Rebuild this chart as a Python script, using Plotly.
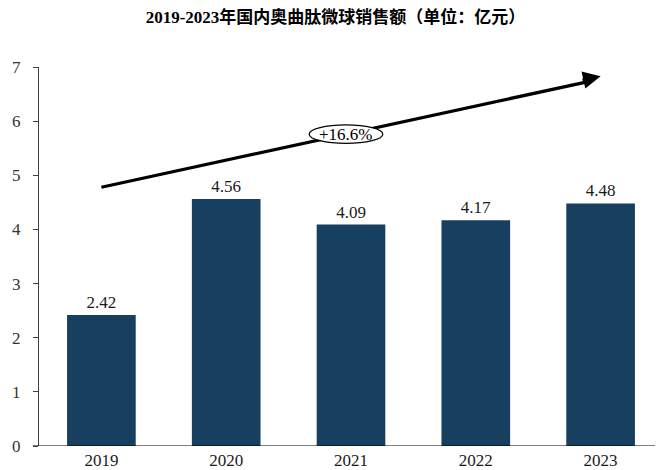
import plotly.graph_objects as go

years = ["2019", "2020", "2021", "2022", "2023"]
sales = [2.42, 4.56, 4.09, 4.17, 4.48]
value_labels = ["2.42", "4.56", "4.09", "4.17", "4.48"]
cagr_label = "+16.6%"
y_ticks = [0, 1, 2, 3, 4, 5, 6, 7]

SERIF = "Liberation Serif, Times New Roman, Noto Sans CJK SC, serif"
BAR = "#173f5f"

fig = go.Figure()
fig.add_trace(go.Bar(
    x=list(range(len(years))), y=sales, width=0.55,
    marker=dict(color=BAR, line=dict(width=0)),
    text=value_labels, textposition="outside",
    textfont=dict(family=SERIF, size=17, color="#1a1a1a"),
    cliponaxis=False, hoverinfo="skip",
))

# trend arrow: shaft as shape (below ellipse), head as annotation
x_start, y_start = 0.0, 4.78
x_end, y_end = 4.0, 6.83
fig.add_shape(type="line", xref="x", yref="y",
              x0=x_start, y0=y_start, x1=x_end - 0.08, y1=y_end - 0.09,
              line=dict(color="#000000", width=3.2))
fig.add_annotation(
    x=x_end, y=y_end, xref="x", yref="y", ax=-19.5, ay=4.3,
    showarrow=True, arrowhead=2, arrowsize=1.1, arrowwidth=3.2, arrowcolor="#000000",
    text="",
)
# ellipse with CAGR
cx, cy = 1.96, 5.76
fig.add_shape(type="circle", xref="x", yref="y",
              x0=cx - 0.295, x1=cx + 0.295, y0=cy - 0.17, y1=cy + 0.17,
              fillcolor="white", line=dict(color="black", width=1.2))
fig.add_annotation(x=cx, y=cy, xref="x", yref="y", text=cagr_label, showarrow=False,
                   font=dict(family=SERIF, size=17, color="#000000"))

fig.update_layout(
    width=655, height=462,
    margin=dict(l=31, r=0, t=59, b=24),
    paper_bgcolor="white", plot_bgcolor="white",
    showlegend=False,
    title=dict(text="<b>2019-2023年国内奥曲肽微球销售额（单位：亿元）</b>",
               x=0.5, xanchor="center", y=0.98, yanchor="middle",
               font=dict(family=SERIF, size=17, color="#000000")),
    xaxis=dict(
        tickmode="array", tickvals=list(range(len(years))), ticktext=years,
        range=[-0.5, 4.5], showgrid=False, zeroline=False,
        showline=False, ticks="", ticklabelstandoff=2,
        tickfont=dict(family=SERIF, size=17, color="#1a1a1a"),
    ),
    yaxis=dict(
        range=[0, 7], tickvals=y_ticks, showgrid=False, zeroline=False,
        showline=True, linecolor="#404040", linewidth=1.2,
        ticks="outside", ticklen=5, tickcolor="#404040", ticklabelstandoff=9,
        tickfont=dict(family=SERIF, size=17, color="#333333"),
    ),
)
# baseline (x axis) extending slightly left of y axis
fig.add_shape(type="line", xref="paper", yref="y", x0=-0.01, x1=1, y0=0, y1=0,
              line=dict(color="#000000", width=1.2))

fig.write_html("out.html")
